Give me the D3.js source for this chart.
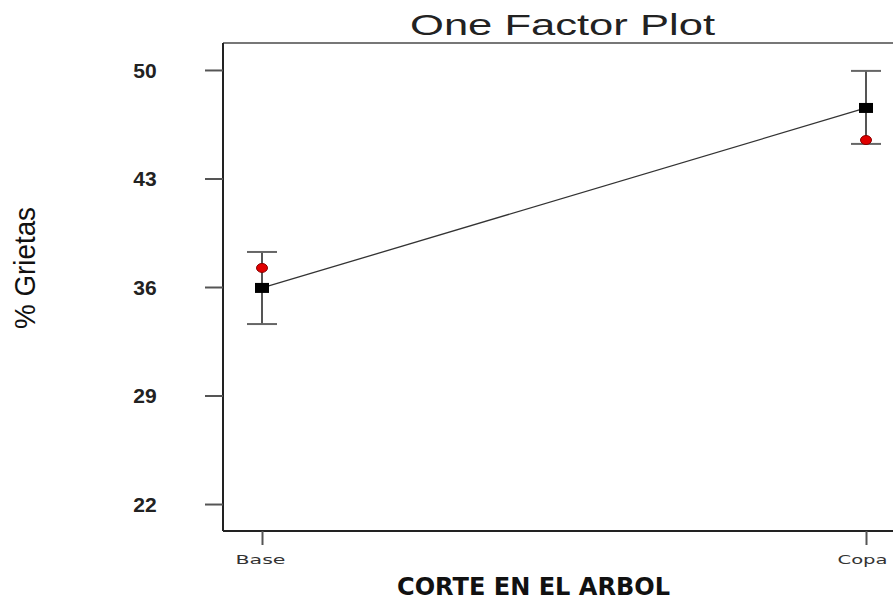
<!DOCTYPE html>
<html>
<head>
<meta charset="utf-8">
<script src="https://cdn.jsdelivr.net/npm/d3@7"></script>
<style>
  html, body { margin: 0; padding: 0; background: #fff; }
  svg { display: block; }
</style>
</head>
<body>
<script>
// ---- data ----
const categories = ["Base", "Copa"];
const means = [35.94, 47.55];
const upperLimits = [38.26, 49.94];
const lowerLimits = [33.61, 45.23];
const observed = [37.23, 45.48];
const yTicks = [22, 29, 36, 43, 50];
const titleText = "One Factor Plot";
const xTitle = "CORTE EN EL ARBOL";
const yTitle = "% Grietas";

const W = 893, H = 601;
const svg = d3.select("body").append("svg").attr("width", W).attr("height", H);

const pLeft = 223, pTop = 43, pBottom = 531, pRight = 960;

const y = d3.scaleLinear().domain([20.26, 51.74]).range([pBottom, pTop]);
const x = d3.scalePoint().domain(categories).range([262, 866]);

// frame
svg.append("line").attr("x1", pLeft).attr("x2", pRight).attr("y1", pTop).attr("y2", pTop)
  .attr("stroke", "#777").attr("stroke-width", 2);
svg.append("line").attr("x1", pLeft).attr("x2", pRight).attr("y1", pBottom).attr("y2", pBottom)
  .attr("stroke", "#222").attr("stroke-width", 2);
svg.append("line").attr("x1", pLeft).attr("x2", pLeft).attr("y1", pTop).attr("y2", pBottom)
  .attr("stroke", "#222").attr("stroke-width", 2);

// y axis
const yAxis = d3.axisLeft(y).tickValues(yTicks).tickSize(18).tickPadding(0).tickFormat(d3.format("d"));
const gy = svg.append("g").attr("transform", `translate(${pLeft},0)`).call(yAxis);
gy.select(".domain").remove();
gy.selectAll(".tick line").attr("stroke", "#555").attr("stroke-width", 2);
gy.selectAll(".tick text")
  .attr("x", -78).attr("dy", "0.35em")
  .attr("text-anchor", "middle")
  .attr("font-family", "Liberation Sans, Arial, sans-serif")
  .attr("font-weight", "bold").attr("font-size", 21).attr("fill", "#222");

// x axis
const xAxis = d3.axisBottom(x).tickSize(14).tickPadding(0);
const gx = svg.append("g").attr("transform", `translate(0,${pBottom})`).call(xAxis);
gx.select(".domain").remove();
gx.selectAll(".tick line").attr("stroke", "#555").attr("stroke-width", 2);
gx.selectAll(".tick text")
  .attr("y", 33).attr("dy", 0)
  .attr("text-anchor", "middle")
  .attr("font-family", "DejaVu Sans, sans-serif")
  .attr("font-size", 13).attr("fill", "#333")
  .attr("textLength", 50).attr("lengthAdjust", "spacingAndGlyphs")
  .attr("x", (d, i) => i === 0 ? -2 : -4);

// connecting line
const line = d3.line().x((d, i) => x(categories[i])).y(d => y(d));
svg.append("path").datum(means).attr("d", line)
  .attr("fill", "none").attr("stroke", "#333").attr("stroke-width", 1.3);

// error bars
const eb = svg.append("g");
categories.forEach((c, i) => {
  const cx = x(c);
  eb.append("line").attr("x1", cx).attr("x2", cx)
    .attr("y1", y(upperLimits[i])).attr("y2", y(lowerLimits[i]))
    .attr("stroke", "#555").attr("stroke-width", 2);
  [upperLimits[i], lowerLimits[i]].forEach(v => {
    eb.append("line").attr("x1", cx - 15).attr("x2", cx + 15)
      .attr("y1", y(v)).attr("y2", y(v))
      .attr("stroke", "#666").attr("stroke-width", 2);
  });
});

// observed points (red)
svg.append("g").selectAll("ellipse").data(observed).join("ellipse")
  .attr("cx", (d, i) => x(categories[i])).attr("cy", d => y(d))
  .attr("rx", 5.5).attr("ry", 4.5)
  .attr("fill", "#e00000").attr("stroke", "#800").attr("stroke-width", 1);

// mean squares
svg.append("g").selectAll("rect").data(means).join("rect")
  .attr("x", (d, i) => x(categories[i]) - 7).attr("y", d => y(d) - 5)
  .attr("width", 14).attr("height", 10).attr("fill", "#000");

// title
svg.append("text").attr("x", 562.5).attr("y", 35).attr("text-anchor", "middle")
  .attr("font-family", "Liberation Sans, Arial, sans-serif").attr("font-size", 30)
  .attr("fill", "#222")
  .attr("textLength", 305).attr("lengthAdjust", "spacingAndGlyphs")
  .text(titleText);

// x title
svg.append("text").attr("x", 533.5).attr("y", 595).attr("text-anchor", "middle")
  .attr("font-family", "DejaVu Sans, sans-serif").attr("font-weight", "bold").attr("font-size", 24)
  .attr("fill", "#111")
  .attr("textLength", 273).attr("lengthAdjust", "spacingAndGlyphs")
  .text(xTitle);

// y title
svg.append("text").attr("transform", "translate(35,268) rotate(-90)")
  .attr("text-anchor", "middle")
  .attr("font-family", "Liberation Sans, Arial, sans-serif").attr("font-size", 29)
  .attr("fill", "#111")
  .attr("textLength", 122).attr("lengthAdjust", "spacingAndGlyphs")
  .text(yTitle);
</script>
</body>
</html>
